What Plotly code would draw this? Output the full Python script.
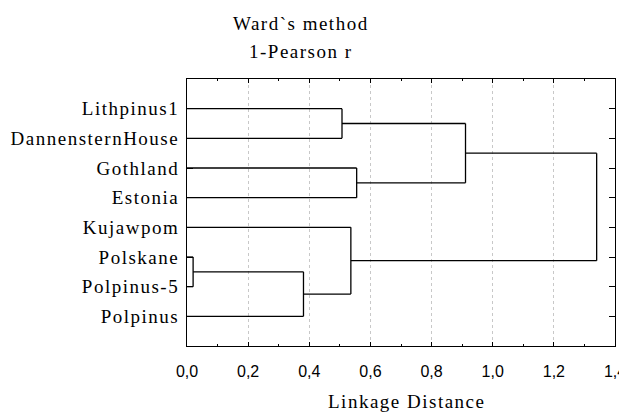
import plotly.graph_objects as go

# ---- data ----
leaf_names = ["Lithpinus1", "DannensternHouse", "Gothland", "Estonia",
              "Kujawpom", "Polskane", "Polpinus-5", "Polpinus"]
# merges: cluster ids (0..7 leaves, 8.. new clusters) and linkage distance
merge_left = [5, 8, 0, 4, 2, 10, 13]
merge_right = [6, 7, 1, 9, 3, 12, 11]
merge_dist = [0.02, 0.381, 0.507, 0.536, 0.555, 0.911, 1.340]
x_tick_vals = [0.0, 0.2, 0.4, 0.6, 0.8, 1.0, 1.2, 1.4]
x_tick_text = ["0,0", "0,2", "0,4", "0,6", "0,8", "1,0", "1,2", "1,4"]
title_lines = ["Ward`s method", "1-Pearson r"]
x_title = "Linkage Distance"

# ---- build dendrogram segments from the linkage ----
pos = {i: float(i + 1) for i in range(len(leaf_names))}
height = {i: 0.0 for i in range(len(leaf_names))}
xs, ys = [], []
for k, (a, b, d) in enumerate(zip(merge_left, merge_right, merge_dist)):
    new_id = len(leaf_names) + k
    for c in (a, b):
        xs += [height[c], d, None]
        ys += [pos[c], pos[c], None]
    xs += [d, d, None]
    ys += [pos[a], pos[b], None]
    pos[new_id] = (pos[a] + pos[b]) / 2
    height[new_id] = d

SERIF = "Liberation Serif"
SANS = "Liberation Sans"

# page body has an 8px default margin
OFF = 8
W, H = 627 - OFF, 414 - OFF
L, R, T, B = 187 - OFF, 12, 79 - OFF, 68


def spaced(t, px=1.5):
    return f'<span style="letter-spacing:{px}px">{t}</span>'


fig = go.Figure()
fig.add_trace(go.Scatter(x=xs, y=ys, mode="lines",
                         line=dict(color="black", width=1.3),
                         hoverinfo="skip", showlegend=False))

fig.update_layout(
    width=W, height=H,
    margin=dict(l=L, r=R, t=T, b=B, autoexpand=False),
    paper_bgcolor="white", plot_bgcolor="white",
    showlegend=False,
    xaxis=dict(range=[0, 1.4], tickvals=x_tick_vals, ticktext=x_tick_text,
               tickfont=dict(family=SANS, size=16, color="black"),
               showline=True, linecolor="black", linewidth=1, mirror="ticks",
               ticks="inside", ticklen=4, tickcolor="black", tickwidth=1,
               minor=dict(dtick=0.1, ticks="inside", ticklen=2,
                          tickcolor="black", showgrid=False),
               showgrid=True, gridcolor="#c8c8c8", griddash="dot", gridwidth=1,
               zeroline=False, ticklabelstandoff=11, automargin=False),
    yaxis=dict(range=[9, 0], tickvals=list(range(1, len(leaf_names) + 1)),
               ticktext=[spaced(n) for n in leaf_names],
               tickfont=dict(family=SERIF, size=19, color="black"),
               showline=True, linecolor="black", linewidth=1, mirror="ticks",
               ticks="inside", ticklen=6, tickcolor="black", tickwidth=1,
               showgrid=False, zeroline=False, ticklabelstandoff=3,
               automargin=False),
)

plot_h = H - T - B
plot_w = W - L - R


def py(ypx):
    return (H - B - (ypx - OFF)) / plot_h


def px(xpx):
    return (xpx - OFF - L) / plot_w


for line, yc in zip(title_lines, [23.6, 51.6]):
    fig.add_annotation(text=spaced(line), x=px(301), y=py(yc), xref="paper",
                       yref="paper", showarrow=False, xanchor="center",
                       yanchor="middle",
                       font=dict(family=SERIF, size=19, color="black"))

fig.add_annotation(text=spaced(x_title), x=px(406), y=py(401.5), xref="paper",
                   yref="paper", showarrow=False, xanchor="center",
                   yanchor="middle",
                   font=dict(family=SERIF, size=19, color="black"))

fig.write_html("out.html")
